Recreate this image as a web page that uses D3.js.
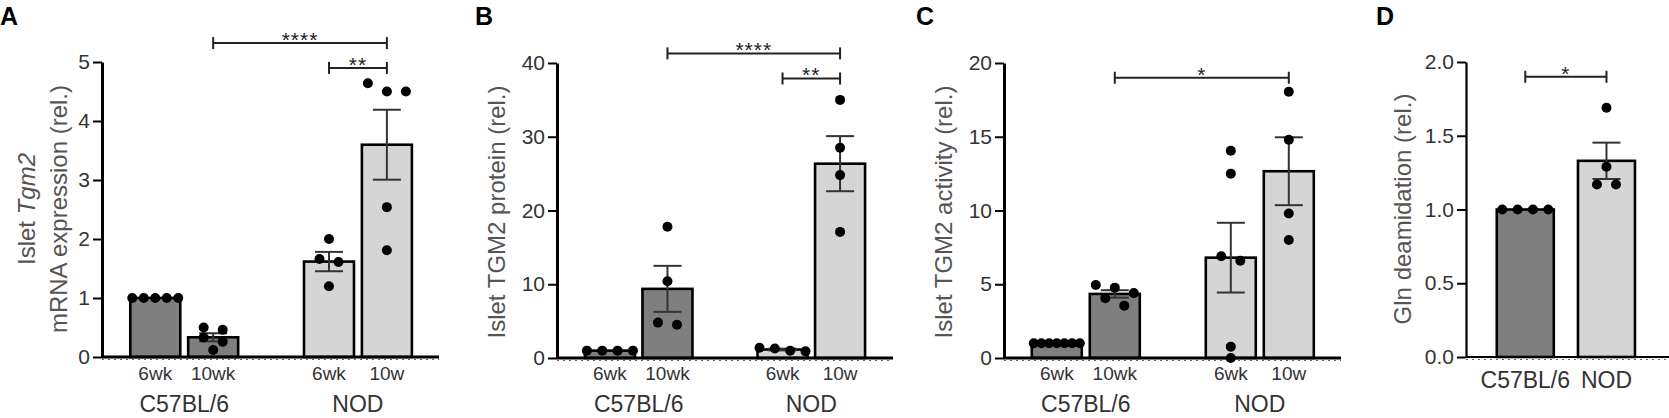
<!DOCTYPE html>
<html>
<head>
<meta charset="utf-8">
<script src="https://cdn.jsdelivr.net/npm/d3@7"></script>
<style>
  body { margin: 0; background: #fff; }
  text { font-family: "Liberation Sans", Arial, sans-serif; }
</style>
</head>
<body>
<div id="chart"></div>
<script>
// ---- data ----
var groupNames = ["C57BL/6", "NOD"];
var ageLabels = ["6wk", "10wk", "6wk", "10w"];
var barGroup = [0, 0, 1, 1];          // 0 = C57BL/6, 1 = NOD

// A: islet Tgm2 mRNA expression (rel.)
var mrnaPoints = [
  [1.0, 1.0, 1.0, 1.0, 1.0],
  [0.50, 0.12, 0.33, 0.46, 0.26],
  [2.0, 1.66, 1.61, 1.20],
  [4.64, 4.50, 4.50, 2.54, 1.81]
];
var mrnaTicks = [0, 1, 2, 3, 4, 5];
var mrnaSig = [{ from: 1, to: 3, stars: "****", level: 5.32 },
               { from: 2, to: 3, stars: "**", level: 4.90 }];

// B: islet TGM2 protein (rel.)
var proteinPoints = [
  [1.0, 1.0, 1.0, 1.0],
  [17.8, 10.4, 4.5, 4.8],
  [0.9, 1.4, 1.0, 1.3],
  [35.0, 28.5, 24.8, 17.1]
];
var proteinTicks = [0, 10, 20, 30, 40];
var proteinSig = [{ from: 1, to: 3, stars: "****", level: 41.3 },
                  { from: 2, to: 3, stars: "**", level: 37.9 }];

// C: islet TGM2 activity (rel.)
var activityPoints = [
  [1.0, 1.0, 1.0, 1.0, 1.0, 1.0, 1.0],
  [4.77, 4.95, 4.40, 3.55, 4.05],
  [14.05, 12.5, 6.6, 6.9, 0.77, 0.0],
  [18.05, 14.8, 9.8, 8.0]
];
var activityTicks = [0, 5, 10, 15, 20];
var activitySig = [{ from: 1, to: 3, stars: "*", level: 19.0 }];

// D: Gln deamidation (rel.)
var deamPoints = [
  [1.0, 1.0, 1.0, 1.0],
  [1.69, 1.29, 1.17, 1.17]
];
var deamTicks = [0, 0.5, 1.0, 1.5, 2.0];
var deamSig = [{ from: 0, to: 1, stars: "*", level: 1.90 }];

// ---- layout ----
var W = 1669, H = 418;
var barFill = ["#7f7f7f", "#d5d5d5"];
var fontFamily = "'Liberation Sans', Arial, sans-serif";

var svg = d3.select("#chart").append("svg")
  .attr("width", W).attr("height", H);

var slots4 = [0, 1, 3, 4];
var slots2 = [0, 1];

var panels = [
  { letter: "A", letterX: 0, axisX: 102, axisEnd: 439, yTop: 62, yBottom: 357,
    domain: [0, 5], ticks: mrnaTicks, fmt: d3.format("d"), points: mrnaPoints,
    slots: slots4, xDomain: [-0.92, 4.9], barW: 50, sig: mrnaSig, axisW: 3,
    title: [{ x: 35, parts: [["Islet ", false], ["Tgm2", true]] },
            { x: 67, parts: [["mRNA expression (rel.)", false]] }], titleY: 209 },
  { letter: "B", letterX: 475, axisX: 557, axisEnd: 893, yTop: 63, yBottom: 358,
    domain: [0, 40], ticks: proteinTicks, fmt: d3.format("d"), points: proteinPoints,
    slots: slots4, xDomain: [-0.92, 4.92], barW: 50, sig: proteinSig, axisW: 3,
    title: [{ x: 505, parts: [["Islet TGM2 protein (rel.)", false]] }], titleY: 212 },
  { letter: "C", letterX: 916, axisX: 1004, axisEnd: 1341, yTop: 63, yBottom: 358,
    domain: [0, 20], ticks: activityTicks, fmt: d3.format("d"), points: activityPoints,
    slots: slots4, xDomain: [-0.91, 4.9], barW: 50, sig: activitySig, axisW: 3,
    title: [{ x: 952, parts: [["Islet TGM2 activity (rel.)", false]] }], titleY: 212 },
  { letter: "D", letterX: 1376, axisX: 1466, axisEnd: 1669, yTop: 62, yBottom: 357,
    domain: [0, 2], ticks: deamTicks, fmt: d3.format(".1f"), points: deamPoints,
    slots: slots2, xDomain: [-0.73, 1.77], barW: 57, sig: deamSig, axisW: 2.2,
    title: [{ x: 1411, parts: [["Gln deamidation (rel.)", false]] }], titleY: 209 }
];

// spread points that sit at about the same height side by side
function spread(vals, y) {
  var order = vals.map(function(v, i) { return i; })
    .sort(function(a, b) { return vals[b] - vals[a]; });
  var rows = [], out = vals.map(function() { return 0; });
  order.forEach(function(i) {
    var last = rows[rows.length - 1];
    if (last && Math.abs(y(vals[i]) - y(vals[last[0]])) < 10) last.push(i);
    else rows.push([i]);
  });
  rows.forEach(function(r) {
    var n = r.length;
    var step = n > 1 ? Math.min(19, 46 / (n - 1)) : 0;
    r.forEach(function(i, k) { out[i] = (k - (n - 1) / 2) * step; });
  });
  return out;
}

panels.forEach(function(p) {
  var g = svg.append("g");
  var y = d3.scaleLinear().domain(p.domain).range([p.yBottom, p.yTop]);
  var x = d3.scaleLinear().domain(p.xDomain).range([p.axisX, p.axisEnd]);

  var stats = p.points.map(function(pts) {
    return { mean: d3.mean(pts),
             sem: pts.length > 1 ? d3.deviation(pts) / Math.sqrt(pts.length) : 0 };
  });

  // panel letter
  g.append("text").attr("x", p.letterX).attr("y", 25)
    .attr("font-size", 25).attr("font-weight", "bold").attr("fill", "#000")
    .text(p.letter);

  // bars
  g.selectAll("rect.bar").data(stats).enter().append("rect")
    .attr("class", "bar")
    .attr("x", function(d, i) { return x(p.slots[i]) - p.barW / 2; })
    .attr("y", function(d) { return y(d.mean); })
    .attr("width", p.barW)
    .attr("height", function(d) { return y(0) - y(d.mean); })
    .attr("fill", function(d, i) { return barFill[barGroup[p.slots.length === 2 ? i * 2 : i]]; })
    .attr("stroke", "#000").attr("stroke-width", 2.6);

  // x baseline with dotted minor marks
  g.append("line")
    .attr("x1", p.axisX).attr("x2", p.axisEnd)
    .attr("y1", y(0)).attr("y2", y(0))
    .attr("stroke", "#000").attr("stroke-width", p.axisW);
  g.append("line")
    .attr("x1", p.axisX).attr("x2", p.axisEnd)
    .attr("y1", y(0) + 2.5).attr("y2", y(0) + 2.5)
    .attr("stroke", "#666").attr("stroke-width", 1.2)
    .attr("stroke-dasharray", "2,4");

  // y axis
  var yAxis = d3.axisLeft(y).tickValues(p.ticks).tickFormat(p.fmt)
    .tickSize(9).tickSizeOuter(0).tickPadding(3);
  var ya = g.append("g").attr("transform", "translate(" + p.axisX + ",0)").call(yAxis);
  ya.select(".domain").attr("stroke", "#000").attr("stroke-width", p.axisW);
  ya.selectAll(".tick line").attr("stroke", "#000").attr("stroke-width", 2);
  ya.selectAll(".tick text").attr("font-size", 21).attr("fill", "#333")
    .attr("font-family", fontFamily);

  // error bars (mean +/- SEM)
  var cap = 14;
  stats.forEach(function(d, i) {
    if (d.sem === 0) return;
    var cx = x(p.slots[i]);
    var eg = g.append("g").attr("stroke", "#333").attr("stroke-width", 2);
    eg.append("line").attr("x1", cx).attr("x2", cx)
      .attr("y1", y(d.mean + d.sem)).attr("y2", y(d.mean - d.sem));
    [d.mean + d.sem, d.mean - d.sem].forEach(function(v) {
      eg.append("line").attr("x1", cx - cap).attr("x2", cx + cap)
        .attr("y1", y(v)).attr("y2", y(v));
    });
  });

  // individual points
  p.points.forEach(function(pts, i) {
    var off = spread(pts, y);
    g.selectAll(null).data(pts).enter().append("circle")
      .attr("cx", function(v, k) { return x(p.slots[i]) + off[k]; })
      .attr("cy", function(v) { return y(v); })
      .attr("r", 5).attr("fill", "#000");
  });

  // significance brackets
  p.sig.forEach(function(s) {
    var x1 = x(p.slots[s.from]), x2 = x(p.slots[s.to]), yy = y(s.level);
    var sg = g.append("g").attr("stroke", "#222").attr("stroke-width", 2);
    sg.append("line").attr("x1", x1).attr("x2", x2).attr("y1", yy).attr("y2", yy);
    [x1, x2].forEach(function(xx) {
      sg.append("line").attr("x1", xx).attr("x2", xx).attr("y1", yy - 6).attr("y2", yy + 6);
    });
    g.append("text").attr("x", (x1 + x2) / 2).attr("y", yy + 4)
      .attr("text-anchor", "middle").attr("font-size", 21).attr("fill", "#222")
      .attr("letter-spacing", 1)
      .text(s.stars);
  });

  // category labels
  if (p.slots.length === 4) {
    g.selectAll("text.age").data(ageLabels).enter().append("text")
      .attr("class", "age")
      .attr("x", function(d, i) { return x(p.slots[i]); })
      .attr("y", 380)
      .attr("text-anchor", "middle").attr("font-size", 19).attr("fill", "#333")
      .text(function(d) { return d; });
    g.selectAll("text.grp").data(groupNames).enter().append("text")
      .attr("class", "grp")
      .attr("x", function(d, i) { return x((p.slots[i * 2] + p.slots[i * 2 + 1]) / 2); })
      .attr("y", 412)
      .attr("text-anchor", "middle").attr("font-size", 23).attr("fill", "#333")
      .text(function(d) { return d; });
  } else {
    g.selectAll("text.grp").data(groupNames).enter().append("text")
      .attr("class", "grp")
      .attr("x", function(d, i) { return x(p.slots[i]); })
      .attr("y", 388)
      .attr("text-anchor", "middle").attr("font-size", 23).attr("fill", "#333")
      .text(function(d) { return d; });
  }

  // y axis title (rotated)
  p.title.forEach(function(line) {
    var t = g.append("text")
      .attr("transform", "translate(" + line.x + "," + p.titleY + ") rotate(-90)")
      .attr("text-anchor", "middle").attr("font-size", 24).attr("fill", "#555");
    line.parts.forEach(function(part) {
      t.append("tspan").attr("font-style", part[1] ? "italic" : "normal").text(part[0]);
    });
  });
});
</script>
</body>
</html>
